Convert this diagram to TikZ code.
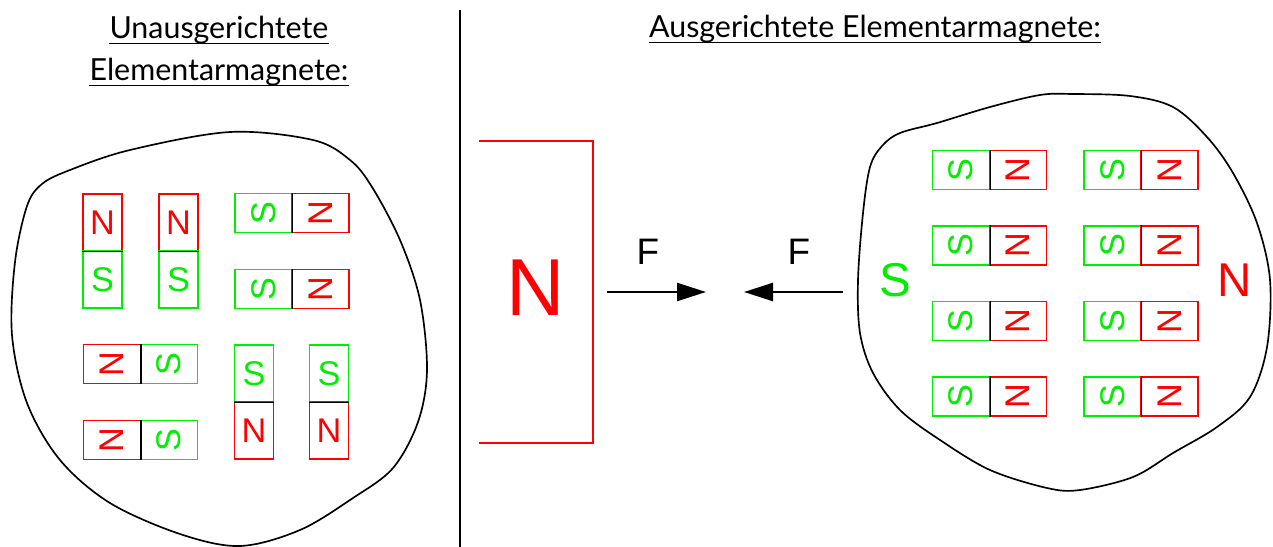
\documentclass[tikz,border=0pt]{standalone}
\usepackage{fontspec}
\setmainfont{Lato}
\newfontfamily\polefont{Liberation Sans}
\usetikzlibrary{arrows.meta,positioning}
\definecolor{northcol}{HTML}{FF0000}
\definecolor{southcol}{HTML}{00EE00}
\newcommand{\polesize}[1]{\polefont\fontsize{#1}{#1}\selectfont}

\begin{document}
\begin{tikzpicture}[x=0.02cm,y=-0.02cm,
  title/.style={font=\fontsize{17.3}{20}\selectfont,anchor=base,inner sep=0pt},
  uline/.style={line width=1.1pt},
  pole/.style={draw,line width=0.75pt,inner sep=0pt,font=\polesize{19.5}},
  vpole/.style={pole,minimum width=0.78cm,minimum height=1.14cm},
  hpole/.style={vpole,rotate=90},
  npole/.style={draw=northcol,text=northcol},
  spole/.style={draw=southcol,text=southcol},
  divider/.style={line width=0.75pt,black},
  blob/.style={line width=0.95pt,black},
  force/.style={line width=1.4pt,-{Triangle[length=0.58cm,width=0.36cm]}},
]
\useasboundingbox (0,0) rectangle (1273,547);

% titles
\node[title] (titleL1) at (219,39) {Unausgerichtete};
\node[title] (titleL2) at (219,81) {Elementarmagnete:};
\node[title] (titleR) at (875,38) {Ausgerichtete Elementarmagnete:};
\foreach \t in {titleL1,titleL2,titleR}
  \draw[uline] ([yshift=-0.09cm]\t.base west) -- ([yshift=-0.09cm]\t.base east);
\draw[line width=1.1pt] (460,10) -- (460,547);

% left piece: unaligned magnets
\draw[blob] plot[smooth cycle,tension=0.55] coordinates {
  (230,132) (313,140) (350,160) (372,187) (400,240) (420,300) (427,370)
  (418,422) (393,468) (353,498) (300,530) (240,546) (180,534) (110,503)
  (60,460) (27,403) (12,335) (15,262) (27,206) (42,184) (70,170) (130,150)};

\node[vpole,npole] (mA-n) at (102.5,222.5) {N};
\node[vpole,spole] (mA-s) at (102.5,279.5) {S};
\draw[divider] (mA-n.south west) -- (mA-n.south east);
\node[vpole,npole] (mB-n) at (178.5,222.5) {N};
\node[vpole,spole] (mB-s) at (178.5,279.5) {S};
\draw[divider] (mB-n.south west) -- (mB-n.south east);

\node[hpole,spole] (mC-s) at (263.5,213) {S};
\node[hpole,npole] (mC-n) at (320.5,213) {N};
\draw[divider] (mC-s.south west) -- (mC-s.south east);
\node[hpole,spole] (mD-s) at (263.5,289) {S};
\node[hpole,npole] (mD-n) at (320.5,289) {N};
\draw[divider] (mD-s.south west) -- (mD-s.south east);

\node[hpole,npole] (mE-n) at (112,364) {N};
\node[hpole,spole] (mE-s) at (169,364) {S};
\draw[divider] (mE-n.south west) -- (mE-n.south east);
\node[hpole,npole] (mF-n) at (112,440) {N};
\node[hpole,spole] (mF-s) at (169,440) {S};
\draw[divider] (mF-n.south west) -- (mF-n.south east);

\node[vpole,spole] (mG-s) at (254,373.5) {S};
\node[vpole,npole] (mG-n) at (254,430.5) {N};
\draw[divider] (mG-s.south west) -- (mG-s.south east);
\node[vpole,spole] (mH-s) at (329,373.5) {S};
\node[vpole,npole] (mH-n) at (329,430.5) {N};
\draw[divider] (mH-s.south west) -- (mH-s.south east);

% pole of the big magnet and the forces
\draw[northcol,line width=0.9pt] (479,141) -- (593,141) -- (593,443) -- (479,443);
\node[text=northcol,font=\polesize{46}] (bigN) at (536,288) {N};

\coordinate (fA-tail) at (607,292);
\coordinate (fA-head) at (706,292);
\coordinate (fB-tail) at (843,292);
\coordinate (fB-head) at (744,292);
\draw[force] (fA-tail) -- (fA-head);
\draw[force] (fB-tail) -- (fB-head);
\node[font=\polesize{21}] (fA-lbl) at (648,252) {F};
\node[font=\polesize{21}] (fB-lbl) at (799,252) {F};

% right piece: aligned magnets
\draw[blob] plot[smooth cycle,tension=0.55] coordinates {
  (1073,94) (1130,96) (1173,107) (1207,137) (1233,173) (1257,223) (1270,280)
  (1267,347) (1250,397) (1217,427) (1173,453) (1133,477) (1080,490) (1047,488)
  (990,470) (940,440) (900,410) (873,373) (860,333) (858,280) (863,213)
  (870,167) (882,146) (900,133) (937,123) (990,107) (1040,95)};

\node[text=southcol,font=\polesize{27}] (bigS) at (895,280) {S};
\node[text=northcol,font=\polesize{27}] (bigN2) at (1235,280) {N};

\foreach \col/\sx in {1/961,2/1112.5}{
  \foreach \row/\yy in {1/170,2/245.5,3/321,4/396.5}{
    \node[hpole,spole] (s\col\row) at (\sx,\yy) {S};
    \node[hpole,npole] (n\col\row) at (\sx+57,\yy) {N};
    \draw[divider] (s\col\row.south west) -- (s\col\row.south east);
  }
}
\end{tikzpicture}
\end{document}
